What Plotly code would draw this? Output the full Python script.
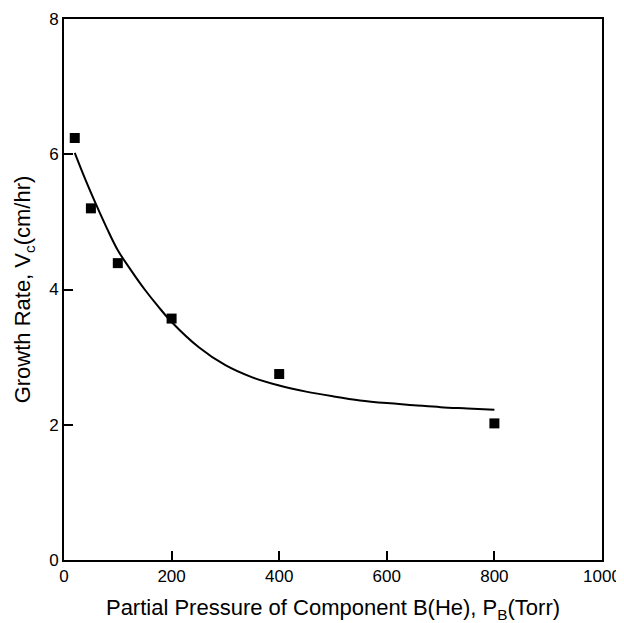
import plotly.graph_objects as go

# measured growth rate vs partial pressure of He
pressure = [20, 50, 100, 200, 400, 800]
growth = [6.24, 5.20, 4.39, 3.57, 2.75, 2.02]

# fitted curve
fit_p = [20, 40, 60, 80, 100, 125, 150, 175, 200, 250, 300, 350, 400, 450, 500, 550, 600, 650, 700, 750, 800]
fit_v = [6.02, 5.62, 5.25, 4.90, 4.58, 4.28, 4.00, 3.75, 3.52, 3.15, 2.88, 2.70, 2.58, 2.49, 2.42, 2.36, 2.32, 2.29, 2.26, 2.24, 2.22]

fig = go.Figure()
fig.add_trace(go.Scatter(x=fit_p, y=fit_v, mode='lines', line=dict(color='black', width=2, shape='spline', smoothing=1),
                         showlegend=False))
fig.add_trace(go.Scatter(x=pressure, y=growth, mode='markers',
                         marker=dict(symbol='square', size=10, color='black'), showlegend=False))

# page body has an 8px margin, so the figure is a bit smaller than the window
font = dict(family='Liberation Sans, Arial, sans-serif', color='black')
fig.update_layout(
    width=616, height=615,
    margin=dict(l=56, r=22, t=11, b=63),
    plot_bgcolor='white', paper_bgcolor='white',
    font=dict(size=17, **font),
)
axis_style = dict(showgrid=False, zeroline=False, automargin=False,
                  showline=True, linecolor='black', linewidth=2, mirror=True,
                  ticks='inside', ticklen=9, tickwidth=1.5, tickcolor='black',
                  tickfont=dict(size=17))
fig.update_xaxes(range=[0, 1000], tickvals=[0, 200, 400, 600, 800, 1000], **axis_style,
                 title=dict(text='Partial Pressure of Component B(He), P<sub>B</sub>(Torr)', font=dict(size=22), standoff=20))
fig.update_yaxes(range=[0, 8], tickvals=[0, 2, 4, 6, 8], **axis_style,
                 title=dict(text='Growth Rate, V<sub>c</sub>(cm/hr)', font=dict(size=22), standoff=12))

fig.write_html("out.html")
